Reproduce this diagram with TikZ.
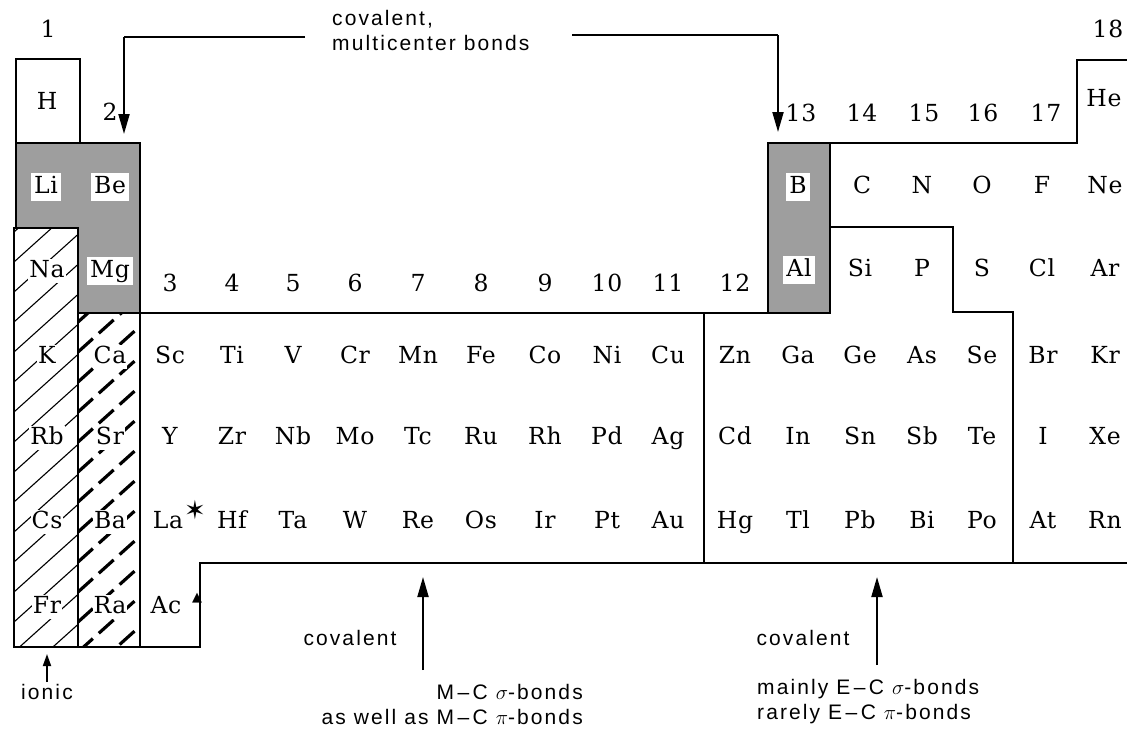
\documentclass[tikz,border=0pt]{standalone}
\usepackage{fontspec}
\usetikzlibrary{arrows.meta}
\newfontfamily\elfam[LetterSpace=3]{DejaVu Serif}
\newfontfamily\labfam[LetterSpace=10]{Liberation Sans}
\newfontfamily\symfam{DejaVu Sans}
\newcommand\elfont{\elfam\fontsize{23.5}{28}\selectfont}
\newcommand\labfont{\labfam\fontsize{21}{25}\selectfont}
\begin{document}
\begin{tikzpicture}[x=1pt,y=-1pt,
  el/.style={font=\elfont, inner sep=1pt, text height=17pt, text depth=5pt},
  elw/.style={el, fill=white},
  elbox/.style={el, fill=white, inner sep=3pt},
  lab/.style={font=\labfont, inner sep=0pt},
  bord/.style={line width=1.9pt, line join=miter},
  conn/.style={line width=2pt, -{Triangle[length=20pt,width=11pt]}},
  sconn/.style={line width=1.8pt, -{Triangle[length=12pt,width=8pt]}},
  shadefill/.style={fill=black!38}]
\useasboundingbox (0,0) rectangle (1127,729);
\fill[white] (0,0) rectangle (1127,729);

% shaded region (Li, Be, Mg) and (B, Al)
\fill[shadefill] (16,143) -- (140,143) -- (140,313) -- (78,313) -- (78,228) -- (16,228) -- cycle;
\fill[shadefill] (768,143) rectangle (830,313);

% hatching column 1
\begin{scope}
  \clip (14,228) rectangle (78,647);
  \foreach \v in {232,262,...,740}
    \draw[line width=1.1pt] (14,\v) -- (114,\v-90);
\end{scope}
% hatching column 2
\begin{scope}
  \clip (78,313) rectangle (140,647);
  \foreach \v in {322,352,...,760}
    \draw[line width=3.2pt, dash pattern=on 20pt off 8pt] (78,\v) -- (178,\v-90);
\end{scope}

% borders
\draw[bord] (16,143) rectangle (80,59);
\draw[bord] (16,143) -- (140,143) -- (140,313) -- (78,313) -- (78,228) -- (16,228) -- cycle;
\draw[bord] (14,228) rectangle (78,647);
\draw[bord] (78,313) -- (78,647);
\draw[bord] (140,313) -- (140,647);
\draw[bord] (140,313) -- (768,313);
\draw[bord] (768,143) rectangle (830,313);
\draw[bord] (830,143) -- (1077,143) -- (1077,60) -- (1127,60);
\draw[bord] (830,227) -- (953,227) -- (953,312) -- (1013,312) -- (1013,563);
\draw[bord] (704,313) -- (704,563);
\draw[bord] (1127,563) -- (200,563) -- (200,647) -- (14,647);

% group numbers
\node[el] (g1) at (48,31) {1};
\node[el] (g2) at (110,114) {2};
\node[el] (g18) at (1108,31) {18};
\foreach \n/\x in {3/170,4/232,5/293,6/355,7/418,8/481,9/545,10/607,11/668,12/735}
  \node[el] (g\n) at (\x,285) {\n};
\foreach \n/\x in {13/801,14/862,15/924,16/983,17/1046}
  \node[el] (g\n) at (\x,115) {\n};

% elements on shading
\foreach \s/\x/\y in {Li/46/187, Be/110/187, Mg/110/271, B/798/187, Al/799/270}
  \node[elbox] (\s) at (\x,\y) {\s};
% elements on hatching
\foreach \s/\x/\y in {Na/47/271, K/47/357, Rb/47/438, Cs/47/522, Fr/47/607,
                      Ca/110/357, Sr/110/438, Ba/110/522, Ra/110/607}
  \node[elw] (\s) at (\x,\y) {\s};
% plain elements
\foreach \s/\x/\y in {H/47/103, He/1104/100,
    C/862/187, N/922/187, O/982/187, F/1042/187, Ne/1105/187,
    Si/860/270, P/922/270, S/982/270, Cl/1042/270, Ar/1105/270,
    Sc/170/357, Ti/232/357, V/293/357, Cr/355/357, Mn/418/357, Fe/481/357,
    Co/545/357, Ni/607/357, Cu/668/357, Zn/735/357, Ga/798/357, Ge/860/357,
    As/922/357, Se/982/357, Br/1043/357, Kr/1105/357,
    Y/170/438, Zr/232/438, Nb/293/438, Mo/355/438, Tc/418/438, Ru/481/438,
    Rh/545/438, Pd/607/438, Ag/668/438, Cd/735/438, In/798/438, Sn/860/438,
    Sb/922/438, Te/982/438, I/1043/438, Xe/1105/438,
    La/168/522, Hf/232/522, Ta/293/522, W/355/522, Re/418/522, Os/481/522,
    Ir/545/522, Pt/607/522, Au/668/522, Hg/735/522, Tl/798/522, Pb/860/522,
    Bi/922/522, Po/982/522, At/1043/522, Rn/1105/522,
    Ac/166/607}
  \node[el] (\s) at (\x,\y) {\s};
\node[font=\symfam\fontsize{26}{26}\selectfont, inner sep=0pt] (star) at (195,510) {✶};
\node[font=\symfam\fontsize{13}{13}\selectfont, inner sep=0pt] (tri) at (197,598) {▲};

% top label and arrows
\node[lab, anchor=west, align=left] (multi) at (332,30) {covalent,\\multicenter bonds};
\coordinate (tl) at (305,37);
\coordinate (tlc) at (124,37);
\coordinate (tlt) at (124,134);
\coordinate (tr) at (572,35);
\coordinate (trc) at (778,35);
\coordinate (trt) at (778,132);
\draw[line width=2pt] (tl) -- (tlc);
\draw[conn] (tlc) -- (tlt);
\draw[line width=2pt] (tr) -- (trc);
\draw[conn] (trc) -- (trt);

% bottom labels and arrows
\node[lab] (ionic) at (47,692) {ionic};
\coordinate (ia) at (47,682);
\coordinate (ib) at (47,654);
\draw[sconn] (ia) -- (ib);

\node[lab] (cov1) at (350,638) {covalent};
\node[lab, anchor=east, align=right] (mc) at (583,704) {M\,–\,C $\sigma$-bonds\\as well as M\,–\,C $\pi$-bonds};
\coordinate (ma) at (423,670);
\coordinate (mb) at (423,577);
\draw[conn] (ma) -- (mb);

\node[lab] (cov2) at (803,638) {covalent};
\node[lab, anchor=west, align=left] (ec) at (757,702) {mainly E\,–\,C $\sigma$-bonds\\rarely E\,–\,C $\pi$-bonds};
\coordinate (ea) at (877,665);
\coordinate (eb) at (877,577);
\draw[conn] (ea) -- (eb);
\end{tikzpicture}
\end{document}
